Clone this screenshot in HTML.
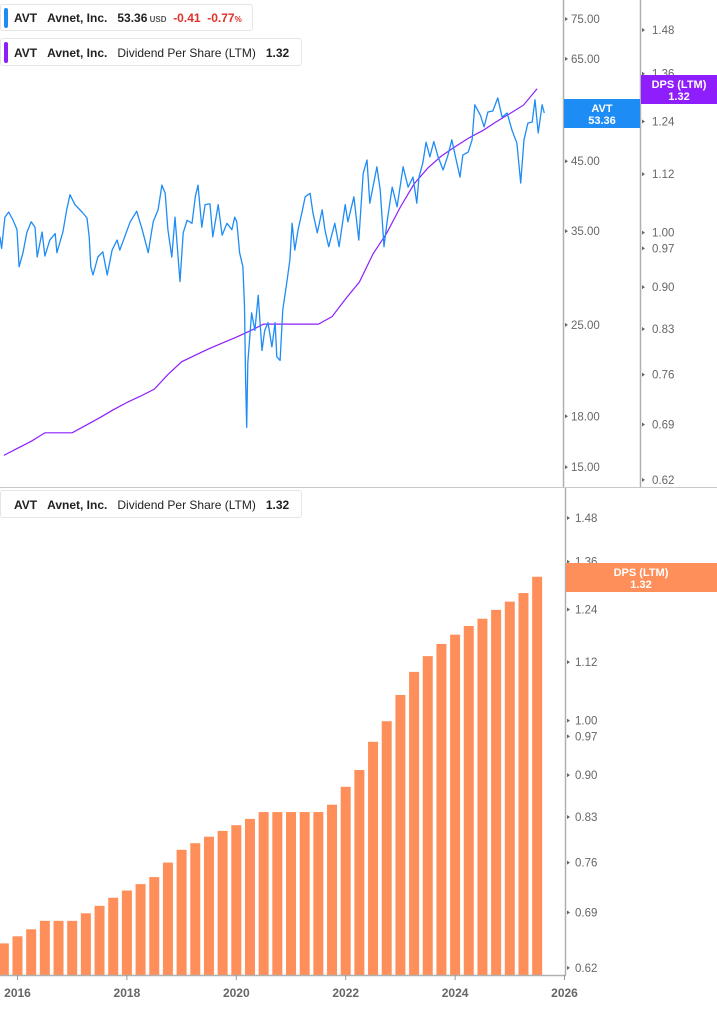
<!DOCTYPE html>
<html><head><meta charset="utf-8"><style>
html,body{margin:0;padding:0;background:#fff;}
body{width:717px;height:1005px;overflow:hidden;font-family:"Liberation Sans",Arial,sans-serif;}
svg text{font-family:"Liberation Sans",Arial,sans-serif;}
</style></head><body>
<svg id="chart" width="717" height="1005" viewBox="0 0 717 1005" xmlns="http://www.w3.org/2000/svg">
<g id="grid"></g>
<g id="bars"></g>
<g id="lines"></g>
<g id="axes"></g>
<g id="labels"></g>
</svg>
<script>
// ---- data ----
const dpsDates = [2015.75,2016.0,2016.25,2016.5,2016.75,2017.0,2017.25,2017.5,2017.75,2018.0,2018.25,2018.5,2018.75,2019.0,2019.25,2019.5,2019.75,2020.0,2020.25,2020.5,2020.75,2021.0,2021.25,2021.5,2021.75,2022.0,2022.25,2022.5,2022.75,2023.0,2023.25,2023.5,2023.75,2024.0,2024.25,2024.5,2024.75,2025.0,2025.25,2025.5];
const dpsValues = [0.650,0.659,0.668,0.679,0.679,0.679,0.689,0.699,0.710,0.720,0.729,0.739,0.760,0.779,0.789,0.799,0.808,0.817,0.827,0.838,0.838,0.838,0.838,0.838,0.850,0.880,0.909,0.960,0.999,1.051,1.099,1.133,1.160,1.181,1.201,1.218,1.239,1.259,1.280,1.321];
const priceDates = [2015.68,2015.71,2015.77,2015.84,2015.92,2015.99,2016.03,2016.10,2016.17,2016.25,2016.32,2016.36,2016.45,2016.50,2016.59,2016.69,2016.72,2016.83,2016.90,2016.96,2017.05,2017.18,2017.27,2017.31,2017.34,2017.38,2017.47,2017.56,2017.64,2017.73,2017.82,2017.87,2017.96,2018.06,2018.18,2018.28,2018.39,2018.48,2018.57,2018.64,2018.70,2018.75,2018.82,2018.88,2018.97,2019.03,2019.10,2019.19,2019.25,2019.30,2019.37,2019.43,2019.52,2019.57,2019.67,2019.74,2019.83,2019.92,2019.97,2020.01,2020.06,2020.12,2020.15,2020.17,2020.19,2020.21,2020.28,2020.34,2020.40,2020.47,2020.52,2020.58,2020.65,2020.71,2020.74,2020.80,2020.85,2020.93,2020.98,2021.02,2021.07,2021.13,2021.20,2021.26,2021.35,2021.40,2021.48,2021.57,2021.62,2021.69,2021.80,2021.88,2021.99,2022.04,2022.15,2022.24,2022.32,2022.39,2022.44,2022.57,2022.63,2022.70,2022.76,2022.85,2022.94,2023.05,2023.14,2023.23,2023.30,2023.34,2023.41,2023.47,2023.54,2023.61,2023.69,2023.78,2023.87,2023.94,2024.02,2024.09,2024.14,2024.24,2024.31,2024.36,2024.46,2024.53,2024.60,2024.69,2024.78,2024.86,2024.95,2025.04,2025.13,2025.20,2025.26,2025.33,2025.41,2025.46,2025.52,2025.59,2025.63];
const priceValues = [34.3,32.9,36.8,37.5,36.4,35.2,30.8,32.4,34.8,36.2,35.5,31.9,34.9,32.0,33.9,34.7,32.4,34.9,37.8,39.9,38.5,37.5,36.7,34.3,30.8,29.9,31.9,32.5,29.9,32.7,33.9,32.7,34.3,36.2,37.6,35.2,32.4,36.2,37.8,41.3,40.1,35.2,31.9,36.8,29.2,34.8,36.4,36.0,39.6,41.3,35.5,38.5,38.6,34.3,38.5,34.5,36.0,35.2,36.8,36.2,32.4,30.8,26.7,20.5,17.3,21.8,26.1,24.5,27.8,22.8,24.5,25.2,23.1,25.2,22.3,22.0,26.4,29.4,31.6,36.0,32.7,35.2,37.4,39.6,40.1,37.4,34.8,37.8,35.2,33.1,36.0,33.1,38.5,36.2,39.6,33.9,43.1,45.2,38.7,44.1,40.6,33.1,36.4,41.0,38.2,44.1,41.0,42.5,38.7,42.5,44.7,48.2,45.7,48.3,45.7,43.6,46.0,48.6,45.2,42.5,46.0,46.5,48.6,55.1,53.1,50.9,53.7,53.9,56.5,52.7,53.5,50.3,48.0,41.6,48.6,51.6,51.8,56.1,49.8,55.1,53.5];
const priceTicks = [75,65,55,45,35,25,18,15];
const dpsTicks = [1.48,1.36,1.24,1.12,1.00,0.97,0.90,0.83,0.76,0.69,0.62];
const yearTicks = [2016,2018,2020,2022,2024,2026];

// ---- scales ----
const NS='http://www.w3.org/2000/svg';
function xS(d){return 17.5+(d-2016)*54.7;}
function yPrice(p){return 19+278.4*Math.log(75/p);}
function yDpsTop(v){return 30+517*Math.log(1.48/v);}
function yDpsBot(v){return 518+517*Math.log(1.48/v);}
function mk(tag,attrs,parent,txt){const e=document.createElementNS(NS,tag);for(const k in attrs)e.setAttribute(k,attrs[k]);if(txt!==undefined)e.textContent=txt;document.getElementById(parent).appendChild(e);return e;}

let e;
e=mk('line',{x1:0,y1:487.5,x2:717,y2:487.5,stroke:'#c8c8c8','stroke-width':1},'axes');


e=mk('line',{x1:563.5,y1:0,x2:563.5,y2:487,stroke:'#b0b0b0','stroke-width':1.5},'axes');


e=mk('line',{x1:640.5,y1:0,x2:640.5,y2:487,stroke:'#b0b0b0','stroke-width':1.5},'axes');


e=mk('line',{x1:565.5,y1:488,x2:565.5,y2:975,stroke:'#b0b0b0','stroke-width':1.5},'axes');


e=mk('line',{x1:0,y1:975.5,x2:566,y2:975.5,stroke:'#b0b0b0','stroke-width':1.5},'axes');



priceTicks.forEach(p=>{const y=yPrice(p);
 e=mk('path',{d:`M565 ${y-2}L568 ${y}L565 ${y+2}Z`,fill:'#666'},'axes');
 
 
 e=mk('text',{x:571,y:y+4,'font-size':11.5,fill:'#666'},'axes',p.toFixed(2));
 
 
});
dpsTicks.forEach(v=>{let y=yDpsTop(v);
 e=mk('path',{d:`M642 ${y-2}L645 ${y}L642 ${y+2}Z`,fill:'#666'},'axes');
 
 
 e=mk('text',{x:652,y:y+4,'font-size':11.5,fill:'#666'},'axes',v.toFixed(2));
 
 
 y=yDpsBot(v);
 e=mk('path',{d:`M567 ${y-2}L570 ${y}L567 ${y+2}Z`,fill:'#666'},'axes');
 
 
 e=mk('text',{x:575,y:y+4,'font-size':11.5,fill:'#666'},'axes',v.toFixed(2));
 
 
});
yearTicks.forEach(yr=>{const x=xS(yr);
 e=mk('line',{x1:x,y1:975,x2:x,y2:980,stroke:'#999'},'axes');
 
 
 e=mk('text',{x:x,y:997,'font-size':12,'font-weight':'bold',fill:'#666','text-anchor':'middle'},'axes',String(yr));
 
 
});

dpsDates.forEach((d,i)=>{const x=xS(d);const y=yDpsBot(dpsValues[i]);
 e=mk('rect',{x:x-5,y:y,width:10,height:975-y,fill:'#ff8f5a'},'bars');
 
 
});

e=mk('polyline',{points:dpsDates.map((d,i)=>xS(d).toFixed(1)+','+yDpsTop(dpsValues[i]).toFixed(1)).join(' '),fill:'none',stroke:'#8f1efc','stroke-width':1.2},'lines');


e=mk('polyline',{points:priceDates.map((d,i)=>xS(d).toFixed(1)+','+yPrice(priceValues[i]).toFixed(1)).join(' '),fill:'none',stroke:'#1e8cf5','stroke-width':1.3,'stroke-linejoin':'round'},'lines');



e=mk('rect',{x:564,y:99,width:76,height:29,fill:'#1e8cf5'},'labels');


e=mk('text',{x:602,y:112,'font-size':11,'font-weight':'bold',fill:'#fff','text-anchor':'middle'},'labels','AVT');


e=mk('text',{x:602,y:124,'font-size':11,'font-weight':'bold',fill:'#fff','text-anchor':'middle'},'labels','53.36');


e=mk('rect',{x:641,y:75,width:76,height:29,fill:'#8f1efc'},'labels');


e=mk('text',{x:679,y:88,'font-size':11,'font-weight':'bold',fill:'#fff','text-anchor':'middle'},'labels','DPS (LTM)');


e=mk('text',{x:679,y:100,'font-size':11,'font-weight':'bold',fill:'#fff','text-anchor':'middle'},'labels','1.32');


e=mk('rect',{x:566,y:563,width:151,height:29,fill:'#ff8f5a'},'labels');


e=mk('text',{x:641,y:576,'font-size':11,'font-weight':'bold',fill:'#fff','text-anchor':'middle'},'labels','DPS (LTM)');


e=mk('text',{x:641,y:588,'font-size':11,'font-weight':'bold',fill:'#fff','text-anchor':'middle'},'labels','1.32');


</script>

<div style="position:absolute;left:0;top:4px;width:253px;height:27px;border:1px solid #e6e6e6;border-radius:3px;background:#fff;font-size:12px;font-weight:bold;color:#222;box-sizing:border-box;">
 <div style="position:absolute;left:3px;top:3px;width:4px;height:20px;background:#1e8cf5;border-radius:2px;"></div>
 <span style="position:absolute;left:13px;top:6px;white-space:nowrap;">AVT&nbsp;&nbsp;&nbsp;Avnet, Inc.&nbsp;&nbsp;&nbsp;53.36<span style="font-size:8px;color:#555;"> USD</span>&nbsp;&nbsp;<span style="color:#e0302a;">-0.41&nbsp;&nbsp;-0.77<span style="font-size:8px;">%</span></span></span>
</div>
<div style="position:absolute;left:0;top:38px;width:302px;height:28px;border:1px solid #e6e6e6;border-radius:3px;background:#fff;font-size:12px;color:#222;box-sizing:border-box;">
 <div style="position:absolute;left:3px;top:3px;width:4px;height:21px;background:#8f1efc;border-radius:2px;"></div>
 <span style="position:absolute;left:13px;top:7px;white-space:nowrap;"><b>AVT&nbsp;&nbsp;&nbsp;Avnet, Inc.</b>&nbsp;&nbsp;&nbsp;Dividend Per Share (LTM)&nbsp;&nbsp;&nbsp;<b>1.32</b></span>
</div>
<div style="position:absolute;left:0;top:490px;width:302px;height:28px;border:1px solid #e6e6e6;border-radius:3px;background:#fff;font-size:12px;color:#222;box-sizing:border-box;">
 <span style="position:absolute;left:13px;top:7px;white-space:nowrap;"><b>AVT&nbsp;&nbsp;&nbsp;Avnet, Inc.</b>&nbsp;&nbsp;&nbsp;Dividend Per Share (LTM)&nbsp;&nbsp;&nbsp;<b>1.32</b></span>
</div>
</body></html>
